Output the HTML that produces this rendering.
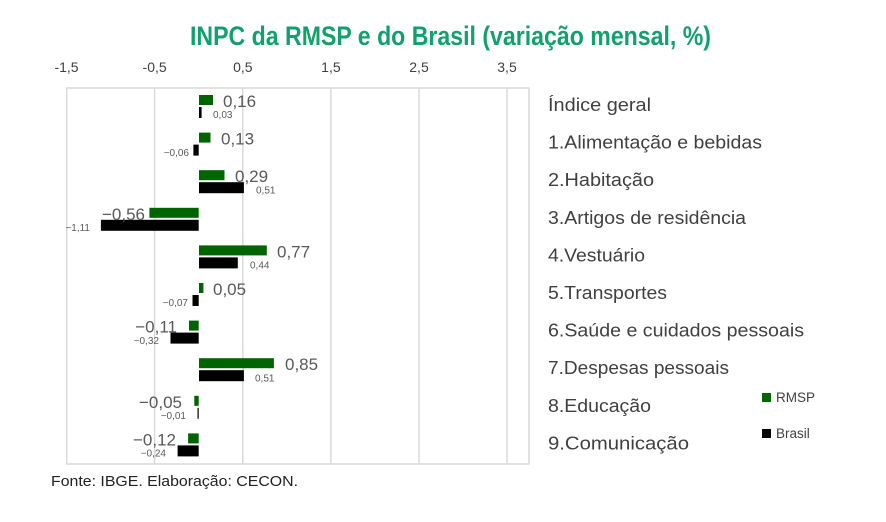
<!DOCTYPE html>
<html><head><meta charset="utf-8"><style>
html,body{margin:0;padding:0;background:#fff;}
svg{display:block;font-family:"Liberation Sans",sans-serif;}
</style></head><body>
<svg width="886" height="522" viewBox="0 0 886 522" xmlns="http://www.w3.org/2000/svg">
<rect width="886" height="522" fill="#fff"/>
<text x="190" y="45" font-family="'Liberation Sans Narrow','Liberation Sans',sans-serif" font-weight="bold" font-size="27" fill="#12a06c" textLength="521" lengthAdjust="spacingAndGlyphs">INPC da RMSP e do Brasil (variação mensal, %)</text>
<g font-size="14" fill="#404040" text-anchor="middle">
<text x="66.5" y="72">-1,5</text><text x="154.6" y="72">-0,5</text><text x="242.8" y="72">0,5</text><text x="330.9" y="72">1,5</text><text x="419" y="72">2,5</text><text x="507" y="72">3,5</text>
</g>
<g stroke="#d9d9d9" stroke-width="1.5" fill="none">
<rect x="66.7" y="88" width="462.3" height="376"/>
<line x1="154.6" y1="88" x2="154.6" y2="464"/><line x1="242.8" y1="88" x2="242.8" y2="464"/><line x1="330.9" y1="88" x2="330.9" y2="464"/><line x1="419" y1="88" x2="419" y2="464"/><line x1="507" y1="88" x2="507" y2="464"/>
</g>
<g>
<rect x="199" y="95" width="14" height="10" fill="#006400"/><rect x="199" y="107" width="2.6" height="11" fill="#000"/>
<rect x="199" y="132.6" width="11.5" height="10" fill="#006400"/><rect x="193.4" y="144.6" width="5.3" height="11" fill="#000"/>
<rect x="199" y="170.2" width="25.5" height="10" fill="#006400"/><rect x="199" y="182.2" width="44.9" height="11" fill="#000"/>
<rect x="149.4" y="207.8" width="49.3" height="10" fill="#006400"/><rect x="100.9" y="219.8" width="97.8" height="11" fill="#000"/>
<rect x="199" y="245.4" width="67.8" height="10" fill="#006400"/><rect x="199" y="257.4" width="38.8" height="11" fill="#000"/>
<rect x="199" y="283" width="4.4" height="10" fill="#006400"/><rect x="192.5" y="295" width="6.2" height="11" fill="#000"/>
<rect x="189" y="320.6" width="9.7" height="10" fill="#006400"/><rect x="170.5" y="332.6" width="28.2" height="11" fill="#000"/>
<rect x="199" y="358.2" width="74.9" height="10" fill="#006400"/><rect x="199" y="370.2" width="44.9" height="11" fill="#000"/>
<rect x="194.3" y="395.8" width="4.4" height="10" fill="#006400"/><rect x="197.5" y="407.8" width="1.2" height="11" fill="#000"/>
<rect x="188.1" y="433.4" width="10.6" height="10" fill="#006400"/><rect x="177.6" y="445.4" width="21.1" height="11" fill="#000"/>
</g>
<g font-size="17" fill="#595959">
<text x="223" y="107">0,16</text>
<text x="221" y="144.6">0,13</text>
<text x="235" y="182.2">0,29</text>
<text x="145" y="219.8" text-anchor="end">−0,56</text>
<text x="277" y="257.4">0,77</text>
<text x="213" y="295">0,05</text>
<text x="177" y="332.6" text-anchor="end">−0,11</text>
<text x="285" y="370.2">0,85</text>
<text x="182" y="407.8" text-anchor="end">−0,05</text>
<text x="176" y="445.4" text-anchor="end">−0,12</text>
</g>
<g font-size="10" fill="#595959">
<text x="213" y="118">0,03</text>
<text x="189" y="156" text-anchor="end">−0,06</text>
<text x="256" y="193.5">0,51</text>
<text x="90" y="231" text-anchor="end">−1,11</text>
<text x="250" y="268.5">0,44</text>
<text x="188" y="306" text-anchor="end">−0,07</text>
<text x="159" y="344" text-anchor="end">−0,32</text>
<text x="255" y="381.5">0,51</text>
<text x="186" y="419" text-anchor="end">−0,01</text>
<text x="166" y="456.5" text-anchor="end">−0,24</text>
</g>
<g font-size="18" fill="#404040">
<text x="548" y="111" textLength="103" lengthAdjust="spacingAndGlyphs">Índice geral</text>
<text x="548" y="148.6" textLength="214" lengthAdjust="spacingAndGlyphs">1.Alimentação e bebidas</text>
<text x="548" y="186.2" textLength="106" lengthAdjust="spacingAndGlyphs">2.Habitação</text>
<text x="548" y="223.8" textLength="198" lengthAdjust="spacingAndGlyphs">3.Artigos de residência</text>
<text x="548" y="261.4" textLength="97" lengthAdjust="spacingAndGlyphs">4.Vestuário</text>
<text x="548" y="299" textLength="119" lengthAdjust="spacingAndGlyphs">5.Transportes</text>
<text x="548" y="336.6" textLength="256" lengthAdjust="spacingAndGlyphs">6.Saúde e cuidados pessoais</text>
<text x="548" y="374.2" textLength="181" lengthAdjust="spacingAndGlyphs">7.Despesas pessoais</text>
<text x="548" y="411.8" textLength="103" lengthAdjust="spacingAndGlyphs">8.Educação</text>
<text x="548" y="449.4" textLength="141" lengthAdjust="spacingAndGlyphs">9.Comunicação</text>
</g>
<rect x="762" y="393" width="9" height="9" fill="#006400"/>
<text x="776" y="402" font-size="13.5" fill="#404040">RMSP</text>
<rect x="762" y="429" width="9" height="9" fill="#000"/>
<text x="776" y="438" font-size="13.5" fill="#404040">Brasil</text>
<text x="51" y="486" font-size="14.5" fill="#222" textLength="247" lengthAdjust="spacingAndGlyphs">Fonte: IBGE. Elaboração: CECON.</text>
</svg>
</body></html>
